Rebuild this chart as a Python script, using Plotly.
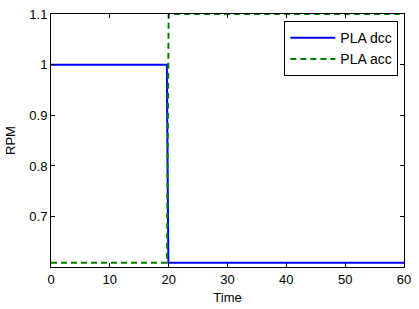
import plotly.graph_objects as go

# Data
dcc_time = [0, 19.7, 19.75, 19.95, 60]
dcc_rpm = [1.0, 1.0, 0.894, 0.609, 0.609]

acc_time = [0, 19.72, 19.78, 20.0, 60]
acc_rpm = [0.609, 0.609, 0.745, 1.1, 1.1]

x_ticks = [0, 10, 20, 30, 40, 50, 60]
y_ticks = [0.7, 0.8, 0.9, 1.0, 1.1]
y_tick_text = ["0.7", "0.8", "0.9", "1", "1.1"]

font = dict(family="Liberation Sans, Arial, sans-serif", size=13, color="black")

fig = go.Figure()
fig.add_trace(go.Scatter(x=dcc_time, y=dcc_rpm, mode="lines", name="PLA dcc",
                         line=dict(color="#0000ff", width=2)))
fig.add_trace(go.Scatter(x=acc_time, y=acc_rpm, mode="lines", name="PLA acc",
                         line=dict(color="#008000", width=2, dash="6px,4px")))

axis_common = dict(showgrid=False, zeroline=False, showline=True, linecolor="black",
                   linewidth=1, mirror="ticks", ticks="inside", ticklen=4,
                   tickcolor="black", tickfont=font, automargin=False)

fig.update_layout(
    width=419, height=309,
    margin=dict(l=51, r=15, t=14, b=42),
    paper_bgcolor="white", plot_bgcolor="white",
    font=font,
    xaxis=dict(range=[0, 60], tickvals=x_ticks, ticktext=[str(v) for v in x_ticks],
               title=dict(text="Time", font=font, standoff=7), **axis_common),
    yaxis=dict(range=[0.6005, 1.1], tickvals=y_ticks, ticktext=y_tick_text,
               title=dict(text="RPM", font=font, standoff=10), **axis_common),
    legend=dict(x=0.984, y=0.972, xanchor="right", yanchor="top",
                bordercolor="black", borderwidth=1, bgcolor="white",
                font=dict(family="Liberation Sans, Arial, sans-serif", size=14, color="black"),
                tracegroupgap=0, itemwidth=45),
    showlegend=True,
)

fig.write_html("out.html", config={"displayModeBar": False},
               post_script="document.body.style.margin='0';document.body.style.padding='0';")
